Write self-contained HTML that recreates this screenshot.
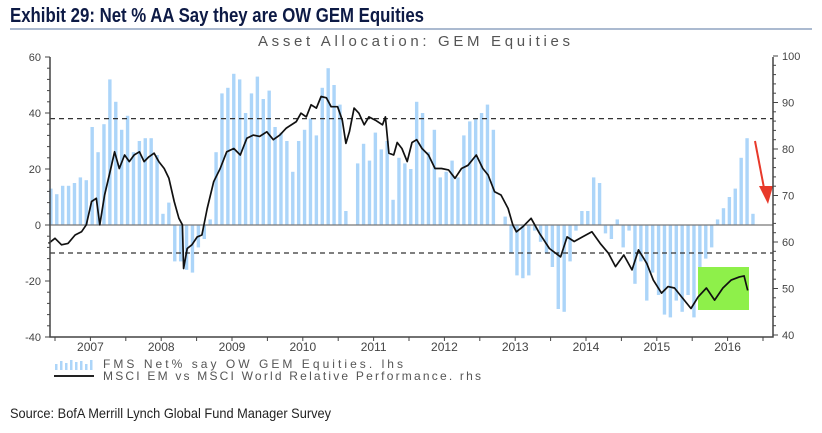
<!DOCTYPE html>
<html><head><meta charset="utf-8"><style>
html,body{margin:0;padding:0;background:#fff;width:822px;height:433px;overflow:hidden}
svg{display:block}
</style></head><body>
<svg id="chart" width="822" height="433" xmlns="http://www.w3.org/2000/svg">
<text x="10" y="22" font-family="Liberation Sans Narrow, Liberation Sans, sans-serif" font-weight="bold" font-size="20" fill="#0d1a45" textLength="414" lengthAdjust="spacingAndGlyphs">Exhibit 29: Net % AA Say they are OW GEM Equities</text>
<line x1="10" y1="29" x2="812" y2="29" stroke="#8fa3c0" stroke-width="1.5"/>
<text x="258" y="46" font-family="Liberation Sans, sans-serif" font-size="15" fill="#555" textLength="312" lengthAdjust="spacing">Asset Allocation: GEM Equities</text>
<g id="plot"></g>
<g>
<g>
<g id="legbars"></g>
<text x="103" y="368" font-family="Liberation Sans, sans-serif" font-size="12" fill="#555" textLength="300" lengthAdjust="spacing">FMS Net% say OW GEM Equities. lhs</text>
</g>
<g>
<line x1="54" y1="376" x2="94" y2="376" stroke="#222" stroke-width="2"/>
<text x="103" y="380" font-family="Liberation Sans, sans-serif" font-size="12" fill="#555" textLength="378" lengthAdjust="spacing">MSCI EM vs MSCI World Relative Performance. rhs</text>
</g>
</g>
<text x="10" y="418" font-family="Liberation Sans Narrow, Liberation Sans, sans-serif" font-size="14" fill="#222" textLength="321" lengthAdjust="spacingAndGlyphs">Source: BofA Merrill Lynch Global Fund Manager Survey</text>
</svg>
<script>
const barValues = [13,11,14,14,15,17,16,35,26,36,52,44,34,39,26,30,31,31,25,4,8,-13,-13,-16,-17,-8,-5,2,26,47,49,54,52,40,47,53,45,48,35,33,30,19,
30,34,38,32,49,56,50,43,5,0,22,29,23,33,27,30,9,24,22,20,44,40,26,34,17,19,23,17,32,37,38,40,43,34,0,3,-10,-18,-19,-18,
-2,-6,-10,-15,-30,-31,-13,-2,5,5,17,15,-3,-5,2,-8,-2,-21,-13,-27,-17,-25,-32,-33,-27,-31,-25,-33,-23,-12,-8,2,6,10,13,24,31,4];
const barStartMonth = -0.7;
const lineMonths = [-1.1,0,1.1,2.2,3.4,4.5,5.3,6.2,7.0,7.6,8.4,9.2,10.1,10.9,11.8,12.6,13.4,14.3,15.1,15.9,16.8,17.6,18.5,19.3,20.2,21.0,21.6,21.8,22.4,23.2,24.1,24.9,25.8,26.9,28.0,29.1,30.3,31.4,32.5,33.6,34.7,35.9,37.0,38.1,39.2,
40.9,41.7,42.6,43.4,44.3,45.1,46.0,46.8,47.9,48.7,49.3,49.9,50.7,51.5,52.4,53.2,54.3,55.5,56.0,56.6,57.4,58.0,58.8,59.7,60.5,61.3,62.2,63.3,64.4,65.5,66.7,67.8,68.9,70.0,71.4,72.5,73.4,74.5,75.6,76.8,77.6,
78.2,79.3,80.7,82.1,83.8,85.7,86.8,88.0,89.4,91.0,92.4,93.8,95.0,96.4,97.8,98.9,100.3,101.4,102.8,103.9,105.0,106.2,107.8,109.0,110.4,111.8,113.2,114.6,116.0,116.8,117.4];
const lineValues = [59.7,60.8,59.4,59.7,61.5,62.2,63.7,68.7,69.4,63.7,70.1,74.4,79.4,75.8,78.7,77.3,78.7,79.4,77.3,78.3,79.1,77.3,75.8,73.7,68.7,65.1,63.7,54.3,58.6,59.4,61.1,61.5,67.2,73,75.8,79.4,80.1,78.7,82.3,83,82.7,83.7,82,83,84.5,
85.9,87.7,86.9,89.5,88.8,91.3,91,89.1,89.1,86.2,81.2,83.7,88.8,87.7,85.2,86.9,86.2,85.2,86.9,79.1,78.7,81.4,80.1,77.3,81.4,82,80.1,78.7,75.8,75.8,75.5,73.7,75.8,76.5,78.7,75.8,74.4,70.8,70.1,67.2,63.7,
62.2,63.3,65.1,61.9,58.6,56.8,61.1,60.1,61.1,62.2,59.7,57.6,54.7,57.2,54,58.3,55.4,51.8,49,50.4,50.1,48.2,45.7,48.2,50.1,47.5,50.1,51.8,52.5,52.7,49.6];
const yearLabels = ["2007","2008","2009","2010","2011","2012","2013","2014","2015","2016"];
const lhsTicks = [60,40,20,0,-20,-40];
const rhsTicks = [100,90,80,70,60,50,40];
const refLevels = [38,-10];

const NS="http://www.w3.org/2000/svg";
const X0=50, X1=773, Y0=57, Y1=337;
const xScale = m => 55 + m*5.9;
const yL = v => 225 - v*2.8;
const yR = v => 56 + (100-v)*4.65;
const plot=document.getElementById('plot');
function mk(tag, attrs, parent){const e=document.createElementNS(NS,tag);for(const k in attrs)e.setAttribute(k,attrs[k]);(parent||plot).appendChild(e);return e;}

barValues.forEach((v,i)=>{
  const x=xScale(barStartMonth+i);
  const y0=yL(0), y1=yL(v);
  const r=mk('rect',{x:x-1.7,y:Math.min(y0,y1),width:3.4,height:Math.abs(y1-y0),fill:'#acd5f9'});
  
  
});
const z=mk('line',{x1:X0,y1:yL(0),x2:X1,y2:yL(0),stroke:'#777','stroke-width':1.2});


refLevels.forEach(v=>{
  const l=mk('line',{x1:X0,y1:yL(v),x2:X1,y2:yL(v),stroke:'#333','stroke-width':1.2,'stroke-dasharray':'5,4'});
  
  
});
const g=mk('rect',{x:698,y:267,width:51,height:43,fill:'#8ef04a'});


let d='';
lineMonths.forEach((m,i)=>{d+=(i?'L':'M')+xScale(m).toFixed(1)+','+yR(lineValues[i]).toFixed(1);});
const p=mk('path',{d:d,fill:'none',stroke:'#111','stroke-width':1.7,'stroke-linejoin':'round'});


const a=mk('line',{x1:755,y1:141,x2:764,y2:188,stroke:'#e8392a','stroke-width':2});


const ah=mk('polygon',{points:'759,186 773,186 768,204',fill:'#e8392a'});


const ax=mk('path',{d:`M${X0},${Y0}V${Y1}H${X1}V${Y0}`,fill:'none',stroke:'#444','stroke-width':1.5});


for(let v=-40;v<=60;v+=4){mk('line',{x1:X0-(v%20==0?5:3),y1:yL(v),x2:X0,y2:yL(v),stroke:'#444'});}
for(let v=40;v<=100;v+=2){mk('line',{x1:X1,y1:yR(v),x2:X1+(v%10==0?5:3),y2:yR(v),stroke:'#444'});}
lhsTicks.forEach(v=>{
  const t=mk('text',{x:X0-9,y:yL(v)+4,'text-anchor':'end','font-family':'Liberation Sans, sans-serif','font-size':11,fill:'#444'});
  t.textContent=v;
  
  
});
rhsTicks.forEach(v=>{
  const t=mk('text',{x:X1+9,y:yR(v)+4,'font-family':'Liberation Sans, sans-serif','font-size':11,fill:'#444'});
  t.textContent=v;
  
  
});
for(let k=0;k<=20;k++){const x=xScale(k*6);if(x<=X1)mk('line',{x1:x,y1:Y1,x2:x,y2:Y1+4,stroke:'#444'});}
yearLabels.forEach((y,k)=>{
  const t=mk('text',{x:xScale(k*12+6),y:Y1+14,'text-anchor':'middle','font-family':'Liberation Sans, sans-serif','font-size':12,fill:'#444'});
  t.textContent=y;
  
  
});
const lb=document.getElementById('legbars');
for(let i=0;i<8;i++){const h=[6,9,7,10,8,9,6,10][i];mk('rect',{x:55+i*5,y:370-h,width:2.5,height:h,fill:'#acd5f9'},lb);}
</script>
</body></html>
